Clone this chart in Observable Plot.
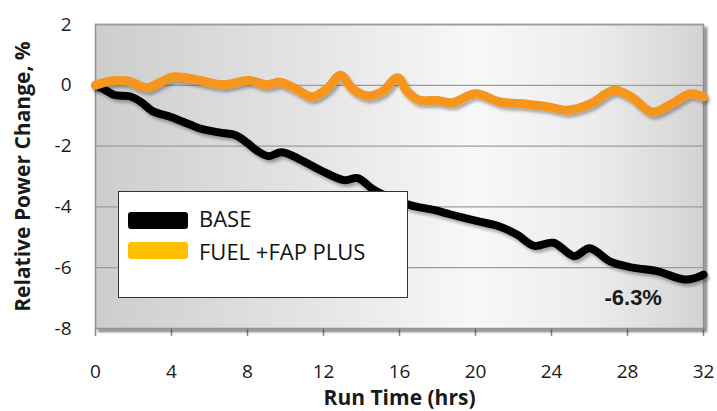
<!DOCTYPE html>
<html>
<head>
<meta charset="utf-8">
<script src="https://cdn.jsdelivr.net/npm/d3@7"></script>
<script src="https://cdn.jsdelivr.net/npm/@observablehq/plot@0.6"></script>
<style>
  body { margin: 0; background: #fff; }
  #wrap { position: relative; width: 717px; height: 411px; overflow: hidden; font-family: "Open Sans", sans-serif; }
  #wrap svg { position: absolute; left: 0; top: 0; }
  #legend { position: absolute; left: 118px; top: 191px; width: 290px; height: 107px; box-sizing: border-box;
            background: #fff; border: 1.5px solid #333; }
  .sw { position: absolute; left: 9px; width: 60px; height: 17px; border-radius: 3px; }
  .lt { position: absolute; left: 80px; font-size: 22px; line-height: 22px; color: #111; white-space: nowrap; }
</style>
</head>
<body>
<div id="wrap"></div>
<script>
// ---- data ----
const baseHours  = [0,0.5,1,1.8,2.4,3,4,5,5.5,6.5,7.4,8,8.5,9.1,9.8,10.8,11.8,13.1,13.8,14.6,15.5,16.6,17.8,18.7,20.1,21.3,22.2,23.1,24.1,25.2,26,27.1,28.3,29.6,30.9,31.5,32];
const baseValues = [0,-0.15,-0.32,-0.36,-0.55,-0.85,-1.05,-1.3,-1.42,-1.55,-1.65,-1.9,-2.15,-2.33,-2.2,-2.45,-2.78,-3.12,-3.05,-3.42,-3.7,-3.95,-4.1,-4.25,-4.47,-4.65,-4.92,-5.28,-5.18,-5.62,-5.36,-5.8,-6.0,-6.12,-6.38,-6.35,-6.23];
const fapHours   = [0,0.8,1.7,2.7,3.4,4.1,5.5,6.7,8.1,9,9.7,10.5,11.4,12.2,12.9,13.5,14.3,15.1,15.9,16.4,17,18,18.8,20,21.3,22.7,23.8,24.8,26,27.3,28.2,29.3,30.3,31.3,32];
const fapValues  = [0,0.14,0.14,-0.08,0.1,0.28,0.16,0.02,0.16,0.02,0.1,-0.1,-0.38,-0.1,0.33,-0.1,-0.35,-0.2,0.25,-0.2,-0.48,-0.5,-0.57,-0.28,-0.55,-0.62,-0.7,-0.82,-0.62,-0.16,-0.38,-0.88,-0.62,-0.28,-0.38];
const seriesNames = ["BASE", "FUEL +FAP PLUS"];
const xTicks = [0,4,8,12,16,20,24,28,32];
const yTicks = [-8,-6,-4,-2,0,2];
const gridValues = [-6,-4,-2,0,2];
const xTitle = "Run Time (hrs)";
const yTitle = "Relative Power Change, %";
const noteHour = [28.3];
const noteValue = [-7.0];
const noteText = ["-6.3%"];

const baseRows = baseHours.map((h, i) => ({hour: h, value: baseValues[i]}));
const fapRows = fapHours.map((h, i) => ({hour: h, value: fapValues[i]}));

const chart = Plot.plot({
  width: 717, height: 411,
  marginLeft: 95, marginRight: 14, marginTop: 24, marginBottom: 83,
  style: {fontFamily: "'Open Sans', sans-serif", fontSize: "19px", color: "#1a1a1a", background: "transparent", overflow: "visible"},
  x: {domain: [0, 32], ticks: xTicks, tickFormat: d => String(d), label: xTitle, labelAnchor: "center", labelArrow: "none", labelOffset: 76, tickSize: 8, tickPadding: 28},
  y: {domain: [-8, 2], ticks: yTicks, tickFormat: d => String(d), label: yTitle, labelAnchor: "center", labelArrow: "none", labelOffset: 80, tickSize: 0, tickPadding: 24},
  marks: [
    Plot.frame({fill: "#e6e6e6", stroke: "#8f8f8f", strokeWidth: 1.5}),
    Plot.ruleY(gridValues, {stroke: "#9c9c9c", strokeWidth: 1.3}),
    Plot.line(baseRows, {x: "hour", y: "value", stroke: "#000", strokeWidth: 8, curve: "catmull-rom", strokeLinejoin: "round", strokeLinecap: "round"}),
    Plot.line(fapRows, {x: "hour", y: "value", stroke: "#F5951D", strokeWidth: 9, curve: "catmull-rom", strokeLinejoin: "round", strokeLinecap: "round"}),
    Plot.text(noteText, {x: (d, i) => noteHour[i], y: (d, i) => noteValue[i], text: d => d, fontFamily: "'Liberation Sans', Arial, sans-serif", fontWeight: "bold", fontSize: 22, fill: "#1a1a1a"})
  ]
});

const svg = d3.select(chart);
const defs = svg.insert("defs", ":first-child");
const lg = defs.append("linearGradient").attr("id", "bg").attr("x1", 0).attr("x2", 1).attr("y1", 0).attr("y2", 0);
[[0, "#cdcdcd"], [0.35, "#e4e4e4"], [0.62, "#f8f8f8"], [0.82, "#ececec"], [1, "#d3d3d3"]]
  .forEach(([o, c]) => lg.append("stop").attr("offset", o).attr("stop-color", c));
defs.append("filter").attr("id", "lsh").attr("x", "-10%").attr("y", "-30%").attr("width", "120%").attr("height", "160%")
  .append("feDropShadow").attr("dx", 2).attr("dy", 3).attr("stdDeviation", 1.6).attr("flood-color", "#000").attr("flood-opacity", 0.3);
defs.append("filter").attr("id", "fsh").attr("x", "-5%").attr("y", "-5%").attr("width", "110%").attr("height", "110%")
  .append("feDropShadow").attr("dx", 3).attr("dy", 3).attr("stdDeviation", 1).attr("flood-color", "#000").attr("flood-opacity", 0.45);

svg.selectAll('[aria-label="frame"]').attr("fill", "url(#bg)").attr("filter", "url(#fsh)");
svg.selectAll('[aria-label="line"] path').attr("filter", "url(#lsh)");
svg.selectAll('[aria-label="x-axis tick"]').attr("stroke", "#8a8a8a").attr("stroke-width", 1.5);
svg.selectAll('[aria-label="x-axis label"], [aria-label="y-axis label"]').attr("font-weight", "bold").attr("font-size", 21).attr("fill", "#1a1a1a");

const wrap = document.getElementById("wrap");
wrap.appendChild(chart);

// legend (HTML, drawn above the plot)
const legendColors = ["#000000", "#FFC000"];
const legend = document.createElement("div");
legend.id = "legend";
const swTops = [20, 50];
const txTops = [15, 48];
seriesNames.forEach((name, i) => {
  const sw = document.createElement("div");
  sw.className = "sw"; sw.style.top = swTops[i] + "px"; sw.style.background = legendColors[i];
  const tx = document.createElement("div");
  tx.className = "lt"; tx.style.top = txTops[i] + "px"; tx.textContent = name;
  legend.appendChild(sw); legend.appendChild(tx);
});
wrap.appendChild(legend);
</script>
</body>
</html>
